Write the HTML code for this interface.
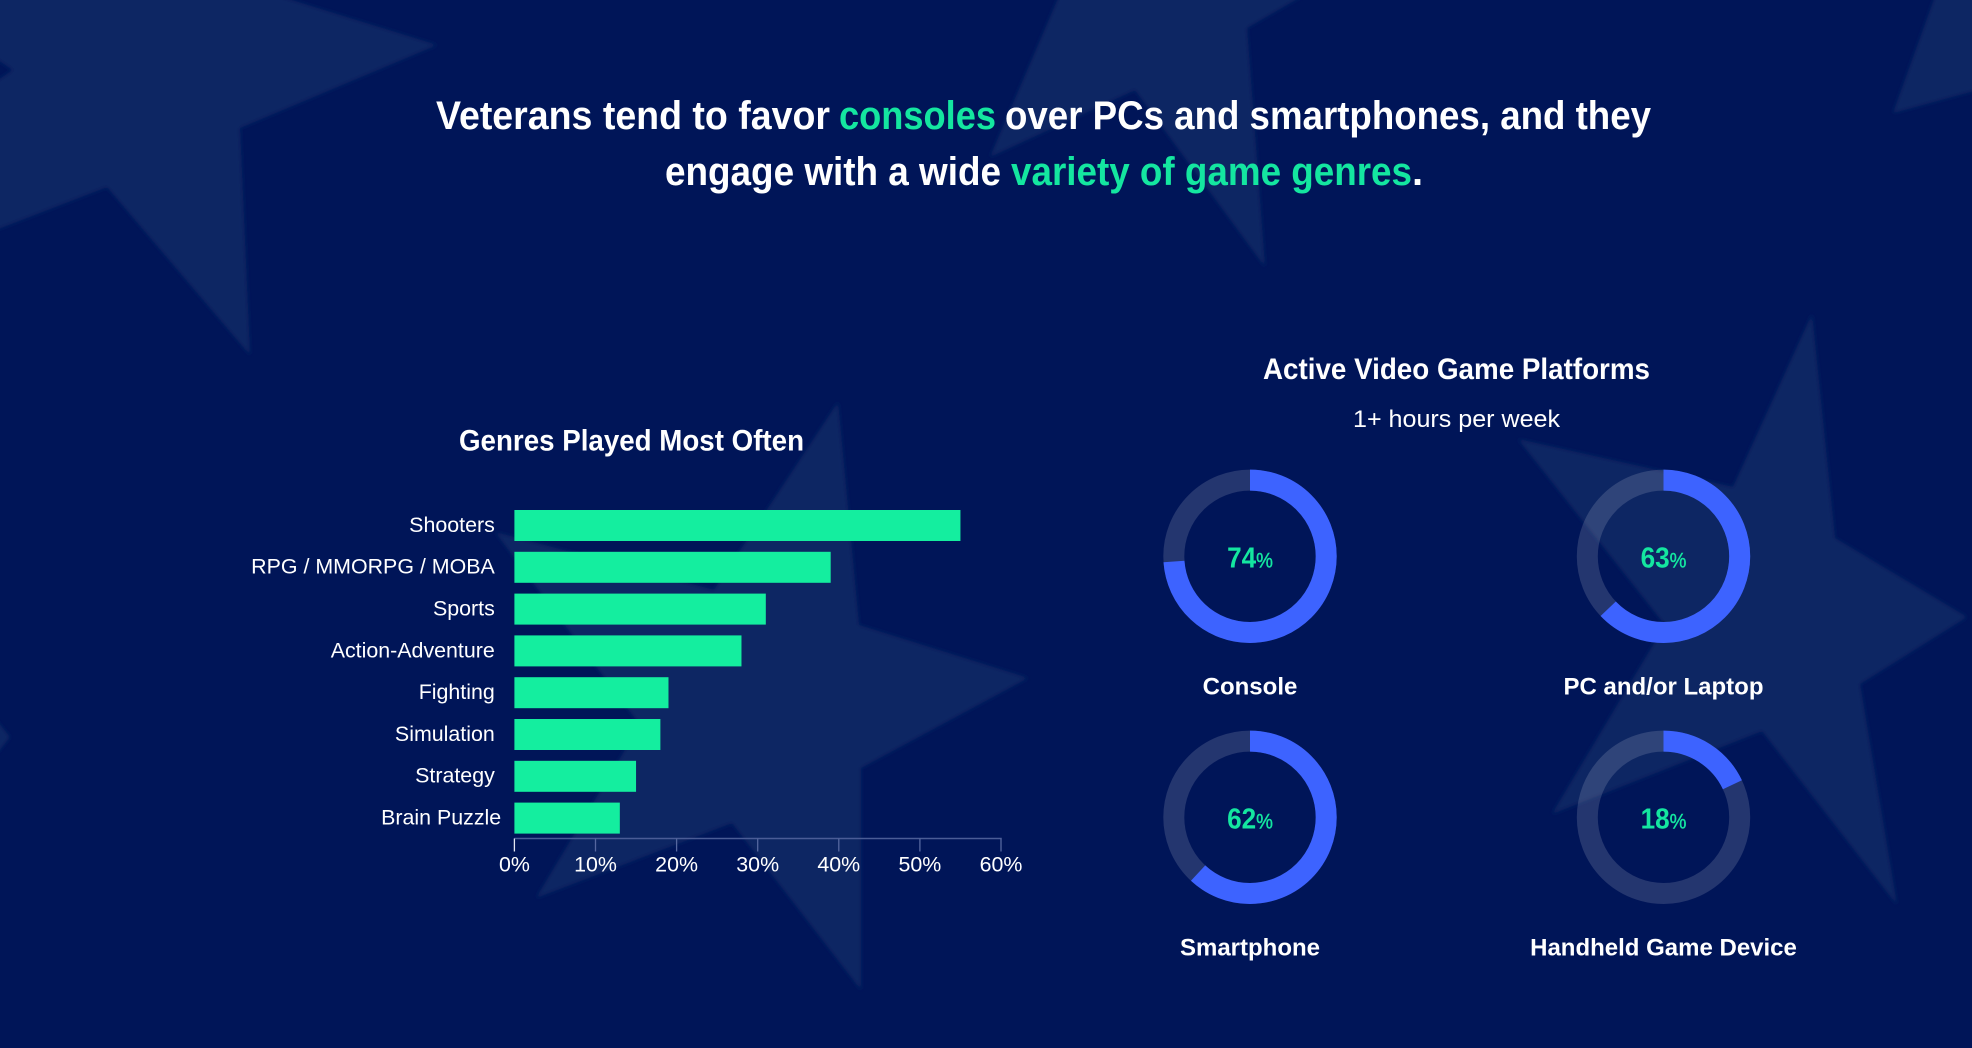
<!DOCTYPE html>
<html lang="en">
<head>
<meta charset="utf-8">
<title>Veterans gaming platforms and genres</title>
<style>
html,body{margin:0;padding:0;background:#001558;width:1972px;height:1048px;overflow:hidden}
svg{display:block}
text{font-family:"Liberation Sans",sans-serif;fill:#fff}
.h{font-weight:700}
.g{fill:#14e6a0}
.t{font-size:21.4px}
</style>
</head>
<body>
<svg id="page" width="1972" height="1048" viewBox="0 0 1972 1048" xmlns="http://www.w3.org/2000/svg">
  <defs>
    <filter id="soft" x="-30" y="-30" width="2040" height="1110" filterUnits="userSpaceOnUse">
      <feGaussianBlur stdDeviation="2"/>
    </filter>
  </defs>
  <rect width="1972" height="1048" fill="#001558"/>
  <g fill="#112663" filter="url(#soft)">
    <polygon points="-20,-20 227,-20 437,45 240,128 250,355 107,187 -20,236 -20,92 13,70 -20,48"/>
    <polygon points="1066,-20 1330,-20 1247,28 1265,267 1135,90 990,157"/>
    <polygon points="1941,-20 1992,-20 1992,86 1893,113"/>
    <polygon points="838,402 859,625 1028,678 861,768 861,990 732,823 536,898 640,725 495,532 714,590"/>
    <polygon points="1812,314 1835,538 1967,617 1860,684 1897,905 1762,731 1552,814 1665,625 1518,439 1733,487"/>
    <polygon points="-20,700 10,737 -20,775"/>
  </g>

  <g>
    <text class="h" font-size="40" x="436" y="129" textLength="394" lengthAdjust="spacingAndGlyphs">Veterans tend to favor</text>
    <text class="h g" font-size="40" x="839" y="129" textLength="157" lengthAdjust="spacingAndGlyphs">consoles</text>
    <text class="h" font-size="40" x="1005" y="129" textLength="646" lengthAdjust="spacingAndGlyphs">over PCs and smartphones, and they</text>
    <text class="h" font-size="40" x="665" y="185" textLength="336" lengthAdjust="spacingAndGlyphs">engage with a wide</text>
    <text class="h g" font-size="40" x="1011" y="185" textLength="401" lengthAdjust="spacingAndGlyphs">variety of game genres</text>
    <text class="h" font-size="40" x="1412" y="185">.</text>
  </g>

  <text class="h" font-size="30" x="459" y="450.5" textLength="345" lengthAdjust="spacingAndGlyphs">Genres Played Most Often</text>
  <g id="bars"></g>

  <text class="h" font-size="30" x="1263" y="379" textLength="387" lengthAdjust="spacingAndGlyphs">Active Video Game Platforms</text>
  <text font-size="24" x="1353" y="427" textLength="207" lengthAdjust="spacingAndGlyphs">1+ hours per week</text>
  <g id="donuts"></g>
</svg>

<script>
const genreCategories = ["Shooters", "RPG / MMORPG / MOBA", "Sports", "Action-Adventure", "Fighting", "Simulation", "Strategy", "Brain Puzzle"];
const genreValues = [55, 39, 31, 28, 19, 18, 15, 13];
const axisTicks = [0, 10, 20, 30, 40, 50, 60];
const platformNames = ["Console", "PC and/or Laptop", "Smartphone", "Handheld Game Device"];
const platformShares = [74, 63, 62, 18];

const NS = "http://www.w3.org/2000/svg";
function make(tag, attrs, parent, txt) {
  const el = document.createElementNS(NS, tag);
  for (const k in attrs) el.setAttribute(k, attrs[k]);
  if (txt !== undefined) el.textContent = txt;
  parent.appendChild(el);
  return el;
}

/* bar chart axis functions */
const xZero = 514.4, xPerUnit = (1001 - 514.4) / 60;
const xScale = v => xZero + v * xPerUnit;
const bandTop = 510, bandStep = 41.8, barHeight = 31;
const yScale = i => bandTop + i * bandStep;

const barsG = document.getElementById("bars");
genreCategories.forEach((name, i) => {
  const y = yScale(i);
  const bar = make("rect", {x: xScale(0), y: y, width: xScale(genreValues[i]) - xScale(0), height: barHeight, fill: "#14ee9f"}, barsG);
  
  
  const nudge = i === genreCategories.length - 1 ? 6.4 : 0;
  const lab = make("text", {x: 494.8 + nudge, y: y + barHeight / 2 + 6.4, "text-anchor": "end", class: "t"}, barsG, name);
  
  
});

const axisY = 838.5;
const axisLine = make("line", {x1: xScale(axisTicks[0]), x2: xScale(axisTicks[axisTicks.length - 1]) + 0.7, y1: axisY, y2: axisY, stroke: "#4a5c96", "stroke-width": 1.5}, barsG);


axisTicks.forEach((t, i) => {
  const x = xScale(t);
  const tick = make("line", {x1: x, x2: x, y1: axisY, y2: axisY + 13, stroke: i === 0 ? "#e4e7f2" : "#55679f", "stroke-width": 1.3}, barsG);
  
  
  const lab = make("text", {x: x, y: 871.7, "text-anchor": "middle", class: "t"}, barsG, t + "%");
  
  
});

/* donut layout */
const colX = [1250, 1663.5], rowY = [556.3, 817.3];
const ringR = 76.2, ringW = 21;
const donutsG = document.getElementById("donuts");
platformNames.forEach((name, i) => {
  const cx = colX[i % 2], cy = rowY[Math.floor(i / 2)];
  const g = make("g", {}, donutsG);
  
  
  const track = make("circle", {cx: cx, cy: cy, r: ringR, fill: "none", stroke: "#fff", "stroke-opacity": 0.14, "stroke-width": ringW}, g);
  
  
  const arc = make("circle", {cx: cx, cy: cy, r: ringR, fill: "none", stroke: "#3d63ff", "stroke-width": ringW, pathLength: 100, "stroke-dasharray": platformShares[i] + " 100", transform: "rotate(-90 " + cx + " " + cy + ")"}, g);
  
  
  const val = make("text", {transform: "translate(" + cx + " " + (cy + 11) + ") scale(.9 1)", "text-anchor": "middle", class: "g h", "font-size": 29}, g);
  
  
  make("tspan", {}, val, String(platformShares[i]));
  make("tspan", {"font-size": 21, "font-weight": 400, stroke: "#14e6a0", "stroke-width": 0.4}, val, "%");
  const lab = make("text", {x: cx, y: cy + 138, "text-anchor": "middle", class: "h", "font-size": 24}, g, name);
  
  
});
</script>
</body>
</html>
